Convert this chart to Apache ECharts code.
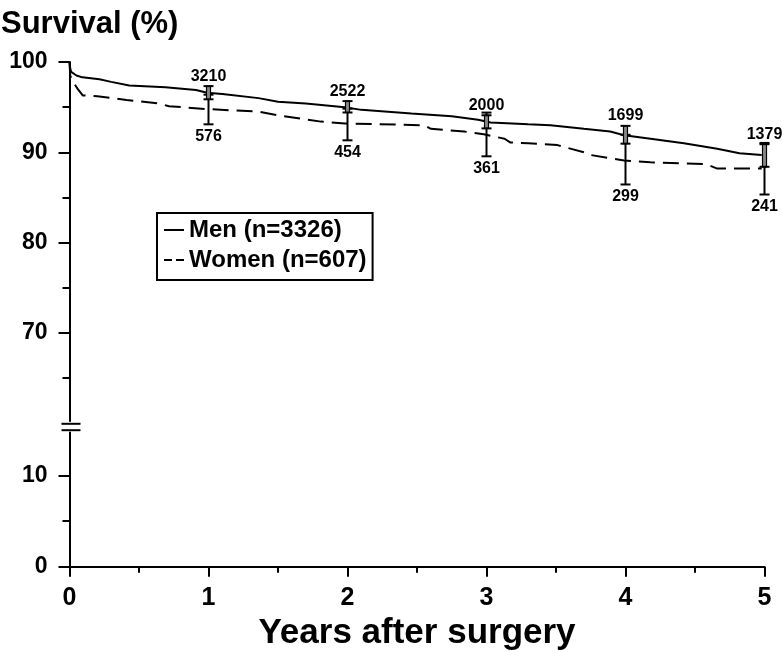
<!DOCTYPE html>
<html>
<head>
<meta charset="utf-8">
<script src="https://cdn.jsdelivr.net/npm/echarts@6/dist/echarts.min.js"></script>
<style>
html,body{margin:0;padding:0;background:#fff;}
#chart{width:782px;height:652px;}
</style>
</head>
<body>
<div id="chart"></div>
<script>
// ---- data ----
var menCurve = [
  [0,100],[0.005,99.3],[0.012,98.9],[0.05,98.5],[0.093,98.3],[0.215,98.1],[0.3,97.8],
  [0.43,97.4],[0.69,97.2],[0.91,96.9],[0.99,96.6],[1.10,96.45],[1.36,96.0],[1.50,95.6],
  [1.70,95.4],[1.98,95.0],[2.1,94.7],[2.46,94.3],[2.75,94.0],[2.94,93.6],[3.03,93.3],
  [3.30,93.1],[3.46,93.0],[3.70,92.6],[3.89,92.3],[3.99,91.9],[4.18,91.5],[4.42,91.0],
  [4.66,90.4],[4.82,89.9],[4.98,89.7]
];
var womenCurve = [
  [0,100],[0.005,98.5],[0.025,97.8],[0.06,97.0],[0.095,96.3],[0.2,96.2],[0.41,95.8],
  [0.645,95.4],[0.716,95.1],[0.98,94.8],[1.36,94.5],[1.5,94.1],[1.68,93.7],[1.81,93.4],
  [1.98,93.2],[2.55,93.0],[2.60,92.6],[2.84,92.3],[2.98,92.0],[3.13,91.5],[3.17,91.1],
  [3.30,91.0],[3.51,90.8],[3.70,90.0],[3.75,89.7],[3.99,89.1],[4.18,88.9],[4.58,88.7],
  [4.66,88.2],[4.98,88.2]
];
var years = [1, 2, 3, 4, 5];
var menAtRisk = [3210, 2522, 2000, 1699, 1379];
var womenAtRisk = [576, 454, 361, 299, 241];
var menLow = [95.87, 94.41, 92.65, 90.96, 88.4];
var menHigh = [97.33, 95.67, 94.1, 92.93, 90.9];
var womenLow = [93.1, 91.33, 89.56, 86.44, 85.33];
var womenHigh = [96.38, 94.83, 94.4, 91.94, 91.04];
var upperTicks = [70, 80, 90, 100];
var lowerTicks = [0, 10];
var seriesNames = ['Men (n=3326)', 'Women (n=607)'];

// ---- chart ----
var FONT = "'Liberation Sans', Arial, Helvetica, sans-serif";
var chart = echarts.init(document.getElementById('chart'), null, {renderer: 'canvas'});

var L = 69.5, W = 695;
var upTop = 62, upH = 361.3;
var loTop = 430.2, loH = 136.5;

function yAxisBase(grid, min, max, interval, tickLen, labels, showLine) {
  return {
    type: 'value', gridIndex: grid, position: 'left', min: min, max: max, interval: interval,
    axisLine: {show: showLine, lineStyle: {color: '#000', width: 2}},
    axisTick: {show: true, length: tickLen, lineStyle: {color: '#000', width: 2}},
    splitLine: {show: false},
    axisLabel: labels ? {
      show: true, margin: 22, color: '#000', fontSize: 23, fontWeight: 'bold', fontFamily: FONT,
      formatter: function (v) { return labels.indexOf(v) >= 0 ? String(v) : ''; }
    } : {show: false}
  };
}

function errorBar(low, high, atRisk) {
  return years.map(function (y, i) { return [y, low[i], high[i], atRisk[i]]; });
}

function renderBar(isMen) {
  return function (params, api) {
    var x = api.value(0);
    var pLo = api.coord([x, api.value(1)]);
    var pHi = api.coord([x, api.value(2)]);
    var cx = pLo[0];
    var capW = 5;
    var children = [];
    if (isMen) {
      children.push({type: 'rect', shape: {x: cx - 2, y: pHi[1], width: 4, height: pLo[1] - pHi[1]},
        style: {fill: '#8a8a8a', stroke: '#000', lineWidth: 1.2}});
    } else {
      children.push({type: 'line', shape: {x1: cx, y1: pHi[1], x2: cx, y2: pLo[1]},
        style: {stroke: '#000', lineWidth: 2}});
    }
    children.push({type: 'line', shape: {x1: cx - capW, y1: pHi[1], x2: cx + capW, y2: pHi[1]},
      style: {stroke: '#000', lineWidth: 2}});
    children.push({type: 'line', shape: {x1: cx - capW, y1: pLo[1], x2: cx + capW, y2: pLo[1]},
      style: {stroke: '#000', lineWidth: 2}});
    children.push({type: 'text', style: {
      text: String(api.value(3)), x: cx, y: isMen ? pHi[1] - 2 : pLo[1] + 4,
      fill: '#000', font: 'bold 16px ' + FONT, align: 'center',
      verticalAlign: isMen ? 'bottom' : 'top'
    }});
    return {type: 'group', children: children};
  };
}

var option = {
  backgroundColor: '#fff',
  animation: false,
  title: {
    text: 'Survival (%)', left: 1, top: 9, padding: 0,
    textStyle: {fontSize: 31, fontWeight: 'bold', fontFamily: FONT, color: '#000'}
  },
  legend: {
    orient: 'vertical', left: 157, top: 213, padding: [5, 6, 8, 6], itemGap: 6,
    itemWidth: 20, itemHeight: 12,
    borderColor: '#000', borderWidth: 2, backgroundColor: '#fff',
    itemStyle: {color: 'rgba(0,0,0,0)', borderWidth: 0, opacity: 0},
    textStyle: {fontSize: 24, fontWeight: 'bold', fontFamily: FONT, color: '#000'},
    data: [
      {name: seriesNames[0], lineStyle: {color: '#000', width: 2, type: 'solid'}},
      {name: seriesNames[1], lineStyle: {color: '#000', width: 2, type: [8, 4]}}
    ]
  },
  grid: [
    {left: L, width: W, top: upTop, height: upH},
    {left: L, width: W, top: loTop, height: loH}
  ],
  xAxis: [
    {type: 'value', gridIndex: 0, min: 0, max: 5, show: false},
    {type: 'value', gridIndex: 1, min: 0, max: 5, interval: 1,
      axisLine: {show: true, lineStyle: {color: '#000', width: 2}},
      axisTick: {show: true, length: 10, lineStyle: {color: '#000', width: 2}},
      minorTick: {show: true, splitNumber: 2, length: 6, lineStyle: {color: '#000', width: 2}},
      splitLine: {show: false}, minorSplitLine: {show: false},
      axisLabel: {margin: 19, color: '#000', fontSize: 25, fontWeight: 'bold', fontFamily: FONT},
      name: 'Years after surgery', nameLocation: 'middle', nameGap: 49,
      nameTextStyle: {fontSize: 35, fontWeight: 'bold', fontFamily: FONT, color: '#000'}
    }
  ],
  yAxis: [
    yAxisBase(0, 60, 100, 10, 11, upperTicks, true),
    yAxisBase(0, 60, 100, 5, 7, null, false),
    yAxisBase(1, 0, 15, 10, 11, lowerTicks, true),
    yAxisBase(1, 0, 15, 5, 7, null, false)
  ],
  series: [
    {name: seriesNames[0], type: 'line', xAxisIndex: 0, yAxisIndex: 0, data: menCurve,
      symbol: 'none', lineStyle: {color: '#000', width: 2}, itemStyle: {color: '#000'}, z: 3},
    {name: seriesNames[1], type: 'line', xAxisIndex: 0, yAxisIndex: 0, data: womenCurve,
      symbol: 'none', lineStyle: {color: '#000', width: 2, type: [16, 8]}, itemStyle: {color: '#000'}, z: 3},
    {type: 'custom', xAxisIndex: 0, yAxisIndex: 0, data: errorBar(womenLow, womenHigh, womenAtRisk),
      renderItem: renderBar(false), z: 4, encode: {x: 0, y: [1, 2]}},
    {type: 'custom', xAxisIndex: 0, yAxisIndex: 0, data: errorBar(menLow, menHigh, menAtRisk),
      renderItem: renderBar(true), z: 5, encode: {x: 0, y: [1, 2]}}
  ]
};
chart.setOption(option);

// axis-break marker on the y axis, placed from the axes' own positions
var yTopBreak = chart.convertToPixel({yAxisIndex: 0}, 60);
var yBotBreak = chart.convertToPixel({yAxisIndex: 2}, 15);
var axX = chart.convertToPixel({xAxisIndex: 1}, 0);
chart.setOption({
  graphic: [
    {type: 'rect', z: 100, shape: {x: axX - 14, y: yTopBreak - 1.5, width: 28, height: yBotBreak - yTopBreak + 3},
      style: {fill: '#fff'}},
    {type: 'line', z: 101, shape: {x1: axX - 8, y1: yTopBreak + 0.5, x2: axX + 11, y2: yTopBreak + 0.5},
      style: {stroke: '#000', lineWidth: 2}},
    {type: 'line', z: 101, shape: {x1: axX - 8, y1: yBotBreak, x2: axX + 11, y2: yBotBreak},
      style: {stroke: '#000', lineWidth: 2}}
  ]
});
</script>
</body>
</html>
